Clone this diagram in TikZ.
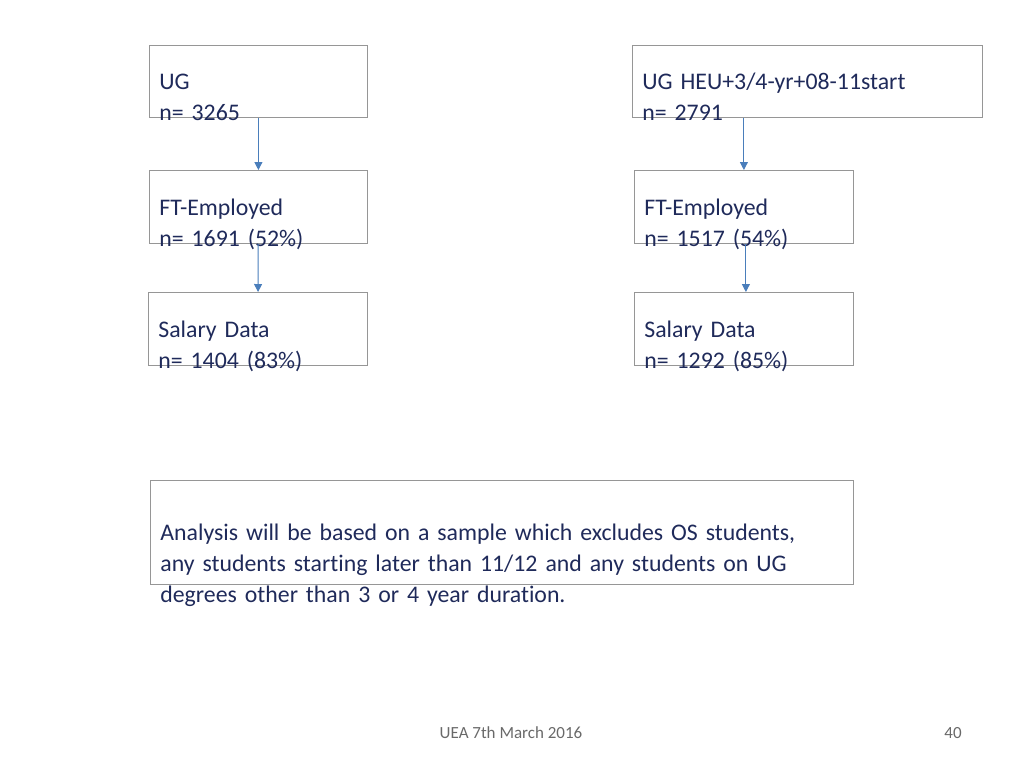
\documentclass[tikz,border=0pt]{standalone}
\usepackage{fontspec}
\setmainfont[Ligatures=NoCommon]{Carlito}
\usetikzlibrary{positioning}
\usetikzlibrary{arrows.meta}
\definecolor{navy}{RGB}{31,42,90}
\definecolor{edge}{RGB}{150,150,150}
\definecolor{link}{RGB}{74,126,187}
\tikzset{side/.style={rectangle,draw=edge,text=navy,anchor=north west,align=left,
  inner xsep=5pt,inner ysep=0pt,font=\fontsize{11.9}{15.5}\selectfont,text depth=0pt},
  flow/.style={-{Triangle[length=4pt,width=4pt]},draw=link,line width=0.5pt}}
\begin{document}
\begin{tikzpicture}[x=0.5pt,y=-0.5pt]
\useasboundingbox (0,0) rectangle (1024,768);
\node[side, text width=99pt, minimum height=36pt] (ug) at (149,45) {UG\\n= 3265};
\node[side, text width=165pt, minimum height=36pt] (heu) at (632,45) {UG HEU+3/4-yr+08-11start\\n= 2791};
\node[side, text width=99pt, minimum height=36.5pt] (ftL) at (149,170) {FT-Employed\\n= 1691 (52\%)};
\node[side, text width=99.5pt, minimum height=36.5pt] (ftR) at (634,170) {FT-Employed\\n= 1517 (54\%)};
\node[side, text width=99.5pt, minimum height=36.5pt] (salL) at (148,292) {Salary Data\\n= 1404 (83\%)};
\node[side, text width=99.5pt, minimum height=36.5pt] (salR) at (634,292) {Salary Data\\n= 1292 (85\%)};
 \draw[flow] (ug.south -| ftL.north) -- (ftL.north);
 \draw[flow] (ftL) -- (salL);
 \draw[flow] (heu.south -| ftR.north) -- (ftR.north);
 \draw[flow] (ftR.south) ++(2,0) coordinate (a) (a) -- (a |- salR.north);
\node[side, text width=341.5pt, minimum height=52pt] (note) at (150,480)
 {Analysis will be based on a sample which excludes OS students,\\any students starting later than 11/12 and any students on UG\\degrees other than 3 or 4 year duration.};
\node[text=edge!70!black, font=\fontsize{8.5}{9}\selectfont] (foot) at (511,733) {UEA 7th March 2016};
\node[text=edge!70!black, font=\fontsize{8.5}{9}\selectfont] (page) at (953,733) {40};
\end{tikzpicture}
\end{document}
